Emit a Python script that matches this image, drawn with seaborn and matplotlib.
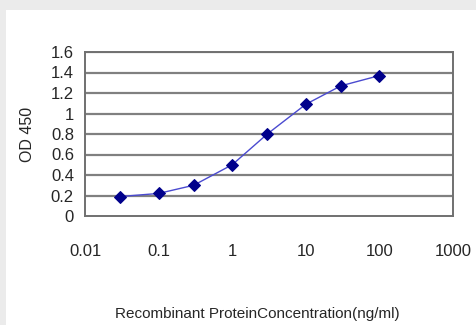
import matplotlib
matplotlib.use('Agg')
import matplotlib.pyplot as plt
import seaborn as sns
import pandas as pd
from matplotlib.patches import Rectangle

conc = [0.03, 0.1, 0.3, 1, 3, 10, 30, 100]
od = [0.19, 0.22, 0.30, 0.50, 0.80, 1.09, 1.27, 1.37]
x_ticks = [0.01, 0.1, 1, 10, 100, 1000]
x_labels = ['0.01', '0.1', '1', '10', '100', '1000']
y_ticks = [0, 0.2, 0.4, 0.6, 0.8, 1, 1.2, 1.4, 1.6]
y_labels = ['0', '0.2', '0.4', '0.6', '0.8', '1', '1.2', '1.4', '1.6']

sns.set_style('white')
plt.rcParams['font.family'] = ['Liberation Sans Narrow', 'Liberation Sans', 'DejaVu Sans']

df = pd.DataFrame({'conc': conc, 'od': od})

fig = plt.figure(figsize=(4.77, 3.25), dpi=100)
fig.patch.set_facecolor('#ebebeb')
fig.patches.append(Rectangle((6 / 477, 0), 1, 1 - 10 / 325, transform=fig.transFigure,
                             facecolor='white', edgecolor='none', zorder=-5))
ax = fig.add_axes([85 / 477, 1 - 216 / 325, 368 / 477, 164 / 325])
ax.set_facecolor('white')

ax.set_xscale('log')
for y in y_ticks[1:]:
    ax.axhline(y, color='#808080', lw=1.6, zorder=1)

sns.lineplot(data=df, x='conc', y='od', ax=ax, color='#4a4ad0', lw=1.0,
             marker='D', markersize=6, markerfacecolor='#00008b',
             markeredgecolor='#00008b', zorder=3)

ax.set_xlim(0.01, 1000)
ax.set_ylim(0, 1.6)
ax.set_xticks(x_ticks)
ax.set_xticklabels(x_labels, fontsize=12)
ax.minorticks_off()
ax.set_yticks(y_ticks)
ax.set_yticklabels(y_labels, fontsize=12)
ax.tick_params(axis='x', direction='in', length=5, color='#606060', pad=20)
ax.tick_params(axis='y', length=0, pad=8)

for s in ax.spines.values():
    s.set_color('#707070')
    s.set_linewidth(1.4)

ax.set_xlabel('')
ax.set_ylabel('OD 450', fontsize=11.5, labelpad=11)
fig.text(257 / 477, 1 - 314 / 325, 'Recombinant ProteinConcentration(ng/ml)',
         fontsize=11, ha='center', va='center')

fig.savefig('out.png', dpi=100, facecolor=fig.get_facecolor())
